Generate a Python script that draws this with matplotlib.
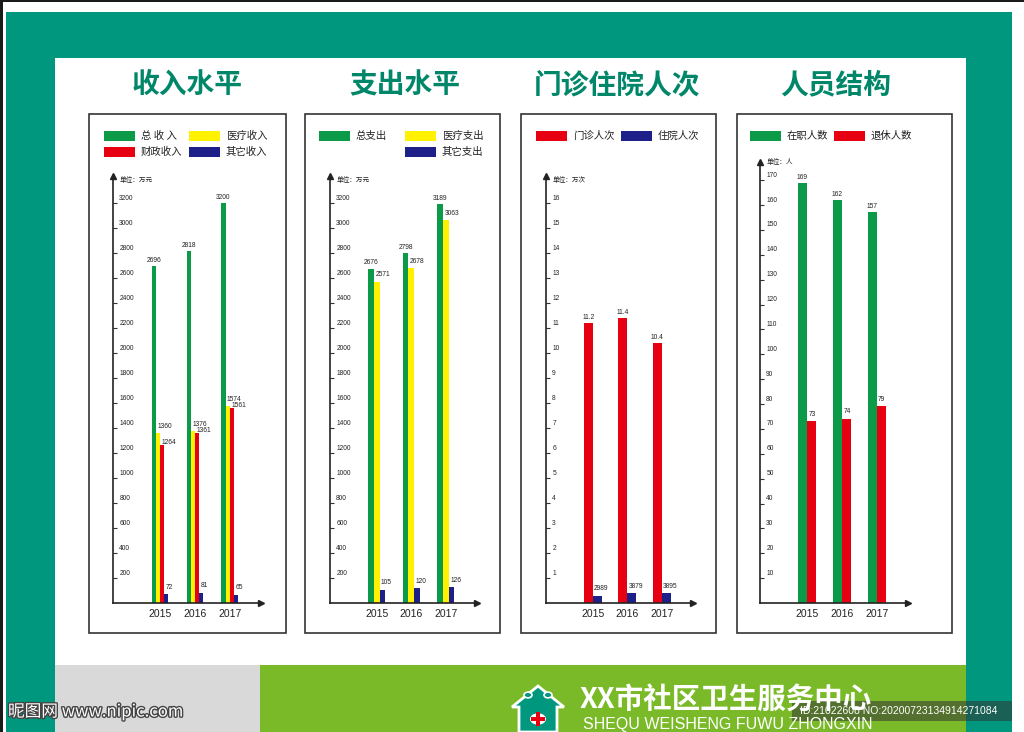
import matplotlib
matplotlib.use("Agg")
import matplotlib.pyplot as plt
from matplotlib.patches import Rectangle, Polygon, Circle
import matplotlib.patheffects as pe

plt.rcParams["font.family"] = ["Liberation Sans", "Noto Sans CJK SC", "DejaVu Sans"]

# ---- data ----
years = ["2015", "2016", "2017"]

income_total = [2696, 2818, 3200]
income_medical = [1360, 1376, 1574]
income_finance = [1264, 1361, 1561]
income_other = [72, 81, 65]

expense_total = [2676, 2798, 3189]
expense_medical = [2571, 2678, 3063]
expense_other = [105, 120, 126]

outpatient = [11.2, 11.4, 10.4]      # 万次
inpatient = [2989, 3879, 3895]       # 人次, drawn in 万次

staff_active = [169, 162, 157]
staff_retired = [73, 74, 79]

titles = ["收入水平", "支出水平", "门诊住院人次", "人员结构"]
units = ["单位：万元", "单位：万元", "单位：万次", "单位：人"]

GREEN = "#0a9a48"
YELLOW = "#fff100"
RED = "#e60012"
BLUE = "#1d2088"
TEAL = "#00977f"
TITLE_C = "#00876a"

W, H = 1024, 732
fig = plt.figure(figsize=(W / 100, H / 100), dpi=100)
fig.patch.set_facecolor("white")


def px(x, y, w, h):
    # pixel box (top-left origin) -> figure fraction
    return [x / W, 1 - (y + h) / H, w / W, h / H]


def frect(x, y, w, h, zorder=-5, **kw):
    l, b, ww, hh = px(x, y, w, h)
    fig.patches.append(Rectangle((l, b), ww, hh, transform=fig.transFigure,
                                 zorder=zorder, **kw))


def ftext(x, y, s, **kw):
    fig.text(x / W, 1 - y / H, s, **kw)


# ---- background frame ----
frect(0, 0, 1024, 2, color="#1a1a1a", lw=0)
frect(0, 0, 3, 732, color="#1a1a1a", lw=0)
frect(6, 12, 1006, 720, color=TEAL, lw=0)
frect(55, 58, 911, 607, color="white", lw=0)
frect(55, 665, 205, 67, color="#d9d9d9", lw=0)
frect(260, 665, 706, 67, color="#7aba28", lw=0)

# ---- panel boxes, titles and legends ----
box_left = [89, 305, 521, 737]
box_width = [197, 195, 195, 215]
title_x = [187, 405, 617, 836]
for bx, bw, t, tx in zip(box_left, box_width, titles, title_x):
    frect(bx, 114, bw, 519, facecolor="white", edgecolor="#333333", lw=1.2)
    ftext(tx, 85, t, fontsize=20, fontweight="bold", color=TITLE_C,
          ha="center", va="center", family=["Noto Sans CJK SC"])

legends = [
    [("总 收 入", GREEN, 15, 0), ("医疗收入", YELLOW, 100, 0),
     ("财政收入", RED, 15, 1), ("其它收入", BLUE, 100, 1)],
    [("总支出", GREEN, 14, 0), ("医疗支出", YELLOW, 100, 0),
     ("其它支出", BLUE, 100, 1)],
    [("门诊人次", RED, 15, 0), ("住院人次", BLUE, 100, 0)],
    [("在职人数", GREEN, 13, 0), ("退休人数", RED, 97, 0)],
]
for bx, items in zip(box_left, legends):
    for label, color, dx, row in items:
        y = 131 + row * 16
        frect(bx + dx, y, 31, 10, color=color, lw=0, zorder=1)
        ftext(bx + dx + 37, y + 5, label, fontsize=7.5, color="#222222",
              va="center", ha="left", family=["Noto Sans CJK SC"])


# ---- charts ----
def draw_chart(axis_x, arrow_x, top_y, ymax, ticks, unit, series, bar_w, unit_dy=-3):
    base_y = 603
    ax = fig.add_axes(px(axis_x, top_y, arrow_x - axis_x, base_y - top_y))
    ax.set_facecolor("none")
    ax.set_xlim(-1.35, 2.9)
    ax.set_ylim(0, ymax)
    for s in ["top", "right"]:
        ax.spines[s].set_visible(False)
    for s in ["left", "bottom"]:
        ax.spines[s].set_linewidth(1.2)
        ax.spines[s].set_color("#222222")
    ax.plot(1, 0, marker=">", ms=5, color="#222222", transform=ax.transAxes, clip_on=False)
    ax.plot(0, 1, marker="^", ms=5, color="#222222", transform=ax.transAxes, clip_on=False)

    ax.set_yticks(ticks)
    ax.set_yticklabels([])
    ax.tick_params(axis="y", direction="in", length=3, width=0.8, color="#333333")
    for v in ticks:
        ax.annotate(str(v), xy=(0, v), xycoords=ax.get_yaxis_transform(),
                    xytext=(4.5, 1), textcoords="offset points",
                    fontsize=4.8, va="bottom", ha="left", color="#222222")
    ax.annotate(unit, xy=(0, 1), xycoords="axes fraction", xytext=(5, unit_dy),
                textcoords="offset points", fontsize=4.8, va="center", ha="left",
                color="#222222", family=["Noto Sans CJK SC"])

    groups = range(len(years))
    ax.set_xticks(list(groups))
    ax.set_xticklabels(years, fontsize=7.5, color="#222222")
    ax.tick_params(axis="x", length=0, pad=4)

    n = len(series)
    for i, (vals, texts, color, style) in enumerate(series):
        xs = [g + (i - (n - 1) / 2) * bar_w for g in groups]
        ax.bar(xs, vals, width=bar_w, color=color, linewidth=0)
        for x, v, t in zip(xs, vals, texts):
            if style == "center":
                ax.annotate(str(t), xy=(x, v), xytext=(0, 1.5), textcoords="offset points",
                            fontsize=4.8, ha="center", va="bottom", color="#222222")
            elif style == "side":
                ax.annotate(str(t), xy=(x - bar_w / 2, v), xytext=(1, 2),
                            textcoords="offset points", fontsize=4.8, ha="left",
                            va="center", color="#222222")
            else:
                ax.annotate(str(t), xy=(x - bar_w / 2, v), xytext=(1, 2.5),
                            textcoords="offset points", fontsize=4.8, ha="left",
                            va="bottom", color="#222222")
    return ax


draw_chart(113, 261, 176, 427 / 0.125, list(range(200, 3201, 200)), units[0],
           [(income_total, income_total, GREEN, "center"),
            (income_medical, income_medical, YELLOW, "left"),
            (income_finance, income_finance, RED, "side"),
            (income_other, income_other, BLUE, "left")], 0.118)

draw_chart(330, 477, 176, 427 / 0.125, list(range(200, 3201, 200)), units[1],
           [(expense_total, expense_total, GREEN, "center"),
            (expense_medical, expense_medical, YELLOW, "left"),
            (expense_other, expense_other, BLUE, "left")], 0.165)

draw_chart(546, 693, 176, 427 / 25, list(range(1, 17)), units[2],
           [(outpatient, outpatient, RED, "center"),
            ([v / 10000 for v in inpatient], inpatient, BLUE, "left")], 0.26)

draw_chart(760, 908, 162, 441 / 2.4875, list(range(10, 171, 10)), units[3],
           [(staff_active, staff_active, GREEN, "center"),
            (staff_retired, staff_retired, RED, "left")], 0.26, unit_dy=0)

# ---- footer ----
house = Polygon([(512 / W, 1 - 707 / H), (538 / W, 1 - 686 / H), (564 / W, 1 - 707 / H),
                 (557 / W, 1 - 707 / H), (557 / W, 0), (519 / W, 0), (519 / W, 1 - 707 / H)],
                closed=True, transform=fig.transFigure, facecolor=TEAL,
                edgecolor="white", lw=2)
fig.patches.append(house)
for hx in (528, 548):
    fig.patches.append(Circle((hx / W, 1 - 695 / H), 4 / W, transform=fig.transFigure,
                              facecolor=TEAL, edgecolor="white", lw=1.2))
fig.patches.append(Circle((538 / W, 1 - 719 / H), 8 / W, transform=fig.transFigure,
                          facecolor="white", edgecolor="white", lw=0))
frect(536, 712, 4, 14, color=RED, lw=0, zorder=2)
frect(531, 717, 14, 4, color=RED, lw=0, zorder=2)

ftext(580, 700, "XX市社区卫生服务中心", fontsize=20.5, fontweight="bold", color="white",
      ha="left", va="center", family=["Noto Sans CJK SC"])
ftext(583, 724, "SHEQU WEISHENG FUWU ZHONGXIN", fontsize=11.5, color="white",
      ha="left", va="center")

# watermark texts seen on the source image
ftext(8, 712, "昵图网 www.nipic.com", fontsize=12, color="white", ha="left", va="center",
      family=["Noto Sans CJK SC"],
      path_effects=[pe.withStroke(linewidth=2, foreground="#444444")])
frect(792, 701, 220, 20, color="#333333", alpha=0.55, lw=0, zorder=3)
ftext(800, 711, "ID:21022608 NO:20200723134914271084", fontsize=7.5, color="white",
      ha="left", va="center")

fig.savefig("out.png", dpi=100)
